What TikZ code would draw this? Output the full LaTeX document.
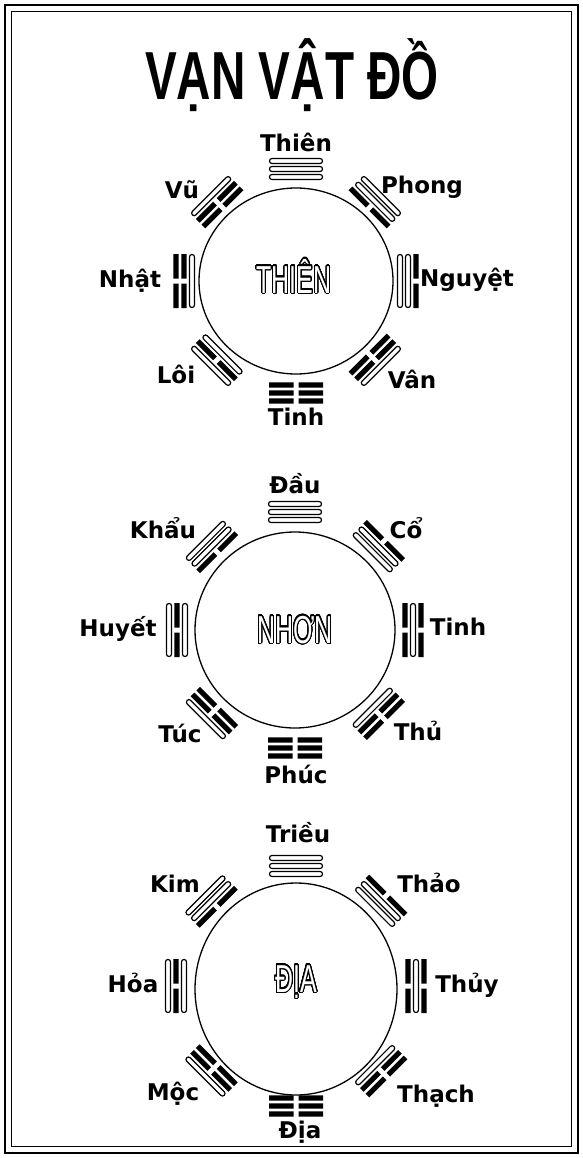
\documentclass[tikz,border=0pt]{standalone}
\usepackage{fontspec}
\setmainfont{DejaVu Sans}
\newfontfamily\titlefont[FakeStretch=0.7]{Liberation Sans}
\newfontfamily\hollowfont[FakeStretch=0.64]{Liberation Sans}
\usepackage[copies]{contour}
\contourlength{1.1pt}
\contournumber{32}
\usetikzlibrary{calc}

% one line of a trigram: offset, kind (1 = whole hollow bar, 0 = broken black bar)
\newcommand{\trline}[2]{%
  \ifnum#2=1
    \draw[yang] (-26.5,#1-2.5) rectangle (26.5,#1+2.5);
  \else
    \fill (-27,#1-2.6) rectangle (-2.5,#1+2.6) (2.5,#1-2.6) rectangle (27,#1+2.6);
  \fi}
% trigram: name, position, rotation, lines inner/middle/outer
\newcommand{\trigram}[6]{%
  \coordinate (#1) at (#2);
  \begin{scope}[shift={(#1)},rotate=#3]
    \trline{-8}{#4}\trline{0}{#5}\trline{8}{#6}
  \end{scope}}

\begin{document}
\begin{tikzpicture}[x=1pt,y=1pt,
    lbl/.style={anchor=base,font=\fontsize{23}{25}\selectfont\bfseries},
    hollow/.style={anchor=base,font=\hollowfont\fontsize{39}{40}\selectfont},
    yang/.style={draw,line width=1.2pt,fill=white,rounded corners=2.4pt},
    wheel/.style={line width=1.3pt}]
  \useasboundingbox (0,0) rectangle (583,-1158);
  % frame
  \draw[line width=2.6pt] (5,-5) rectangle (578,-1153);
  \draw[line width=1pt] (11.5,-11.5) rectangle (571.5,-1146.5);
  \node[anchor=base,font=\titlefont\bfseries\fontsize{68}{72}\selectfont] (title) at (292,-100) {VẠN VẬT ĐỒ};

  % Thien wheel
  \coordinate (ca) at (296,-281);
  \draw[wheel] (ca) ellipse (97 and 93);
  \foreach \ang/\a/\b/\c [count=\k] in {90/1/1/1,45/0/1/1,0/1/1/0,-45/0/0/1,-90/0/0/0,-135/1/0/1,180/1/0/0,135/0/0/1}
    \trigram{ta\k}{$(ca)+(\ang:112)$}{\ang-90}{\a}{\b}{\c};
  \node[hollow] (thien) at (294,-293) {\contour{black}{\textcolor{white}{THIÊN}}};
  \node[lbl] (thienN) at (296,-152) {Thiên};
  \node[lbl] (phong) at (422,-194) {Phong};
  \node[lbl] (nguyet) at (467,-286) {Nguyệt};
  \node[lbl] (van) at (412,-388) {Vân};
  \node[lbl] (tinhS) at (296,-425) {Tinh};
  \node[lbl] (loi) at (176,-383) {Lôi};
  \node[lbl] (nhat) at (130,-287) {Nhật};
  \node[lbl] (vu) at (182,-199) {Vũ};

  % Nhon wheel
  \coordinate (cb) at (295,-630);
  \draw[wheel] (cb) ellipse (100 and 98);
  \foreach \ang/\a/\b/\c [count=\k] in {90/1/1/1,45/1/1/0,0/0/1/0,-45/1/0/0,-90/0/0/0,-135/0/0/1,180/1/0/1,135/0/1/1}
    \trigram{tb\k}{$(cb)+(\ang:118)$}{\ang-90}{\a}{\b}{\c};
  \node[hollow] (nhon) at (295,-643) {\contour{black}{\textcolor{white}{NHƠN}}};
  \node[lbl] (dau) at (295,-493) {Đầu};
  \node[lbl] (co) at (406,-538) {Cổ};
  \node[lbl] (tinhE) at (458,-635) {Tinh};
  \node[lbl] (thu) at (418,-740) {Thủ};
  \node[lbl] (phuc) at (296,-783) {Phúc};
  \node[lbl] (tuc) at (180,-742) {Túc};
  \node[lbl] (huyet) at (118,-636) {Huyết};
  \node[lbl] (khau) at (163,-538) {Khẩu};

  % Dia wheel
  \coordinate (cc) at (296,-986);
  \draw[wheel] (296,-989) ellipse (101 and 106);
  \foreach \ang/\a/\b/\c [count=\k] in {90/1/1/1,45/1/1/0,0/0/1/0,-45/1/0/0,-90/0/0/0,-135/0/0/1,180/1/0/1,135/0/1/1}
    \trigram{tc\k}{$(cc)+(\ang:120)$}{\ang-90}{\a}{\b}{\c};
  \node[hollow] (diaC) at (296,-992) {\contour{black}{\textcolor{white}{ĐỊA}}};
  \node[lbl] (trieu) at (298,-842) {Triều};
  \node[lbl] (thao) at (429,-892) {Thảo};
  \node[lbl] (thuy) at (467,-992) {Thủy};
  \node[lbl] (thach) at (436,-1102) {Thạch};
  \node[lbl] (diaS) at (300,-1138) {Địa};
  \node[lbl] (moc) at (173,-1100) {Mộc};
  \node[lbl] (hoa) at (133,-992) {Hỏa};
  \node[lbl] (kim) at (175,-892) {Kim};
\end{tikzpicture}
\end{document}
